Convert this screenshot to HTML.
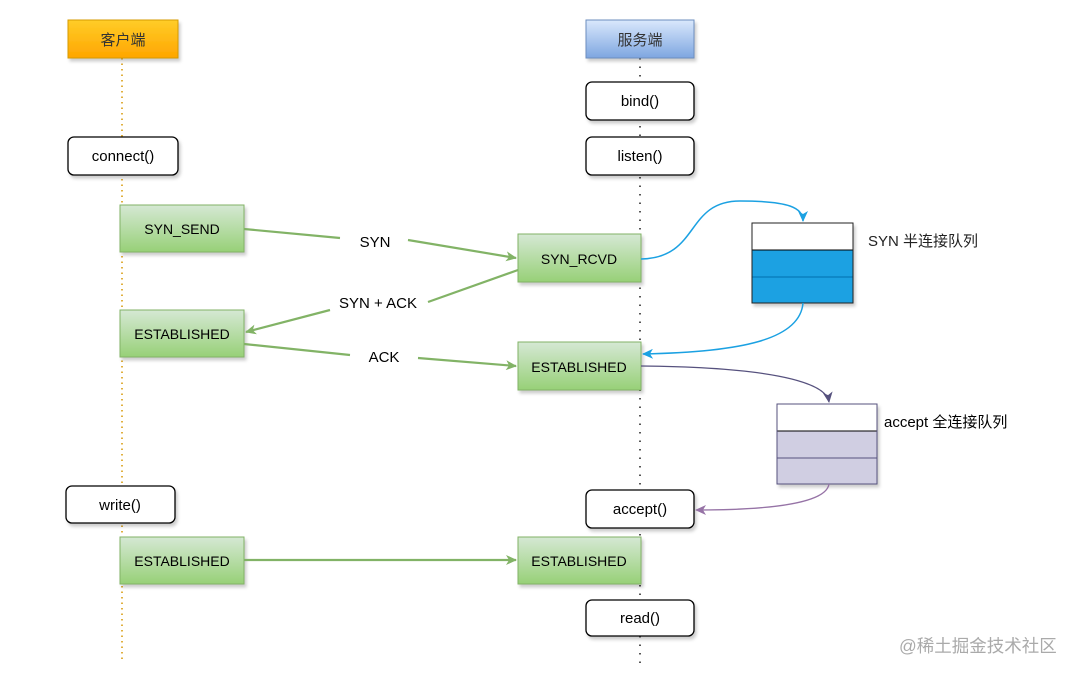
<!DOCTYPE html>
<html><head><meta charset="utf-8"><style>
html,body{margin:0;padding:0;background:#fff;}
svg{display:block;}
text{font-family:"Liberation Sans","Noto Sans CJK SC",sans-serif;}
</style></head><body>
<svg width="1080" height="675" viewBox="0 0 1080 675" xmlns="http://www.w3.org/2000/svg">
<defs>
<linearGradient id="og" x1="0" y1="0" x2="0" y2="1"><stop offset="0" stop-color="#ffcd28"/><stop offset="1" stop-color="#ffa500"/></linearGradient>
<linearGradient id="bg" x1="0" y1="0" x2="0" y2="1"><stop offset="0" stop-color="#dae8fc"/><stop offset="1" stop-color="#7ea6e0"/></linearGradient>
<linearGradient id="gg" x1="0" y1="0" x2="0" y2="1"><stop offset="0" stop-color="#d5e8d4"/><stop offset="1" stop-color="#97d077"/></linearGradient>
<filter id="sh" x="-10%" y="-10%" width="130%" height="140%"><feDropShadow dx="2" dy="3" stdDeviation="1.5" flood-color="#000" flood-opacity="0.2"/></filter>
<marker id="ag" markerWidth="12" markerHeight="10" refX="10" refY="5" orient="auto" markerUnits="userSpaceOnUse"><path d="M0,0 L11,5 L0,10 L3,5 z" fill="#82b366"/></marker>
<marker id="ab" markerWidth="12" markerHeight="10" refX="10" refY="5" orient="auto" markerUnits="userSpaceOnUse"><path d="M0,0 L11,5 L0,10 L3,5 z" fill="#1ba1e2"/></marker>
<marker id="ap" markerWidth="12" markerHeight="10" refX="10" refY="5" orient="auto" markerUnits="userSpaceOnUse"><path d="M0,0 L11,5 L0,10 L3,5 z" fill="#56517e"/></marker>
<marker id="ap2" markerWidth="12" markerHeight="10" refX="10" refY="5" orient="auto" markerUnits="userSpaceOnUse"><path d="M0,0 L11,5 L0,10 L3,5 z" fill="#9673a6"/></marker>
</defs>

<line x1="122" y1="58" x2="122" y2="662" stroke="#e0b040" stroke-width="2" stroke-dasharray="1.5,4"/>
<line x1="640" y1="58" x2="640" y2="668" stroke="#555" stroke-width="2" stroke-dasharray="1.5,7"/>

<rect x="68" y="20" width="110" height="38" fill="url(#og)" stroke="#d79b00" filter="url(#sh)"/>
<text x="123" y="45" text-anchor="middle" font-size="15" fill="#333">客户端</text>
<rect x="586" y="20" width="108" height="38" fill="url(#bg)" stroke="#6c8ebf" filter="url(#sh)"/>
<text x="640" y="45" text-anchor="middle" font-size="15" fill="#333">服务端</text>

<g fill="#fff" stroke="#000" stroke-width="1.3" filter="url(#sh)">
<rect x="586" y="82" width="108" height="38" rx="6"/>
<rect x="68" y="137" width="110" height="38" rx="6"/>
<rect x="586" y="137" width="108" height="38" rx="6"/>
<rect x="66" y="486" width="109" height="37" rx="6"/>
<rect x="586" y="490" width="108" height="38" rx="6"/>
<rect x="586" y="600" width="108" height="36" rx="6"/>
</g>
<g font-size="15" text-anchor="middle" fill="#000">
<text x="640" y="106">bind()</text>
<text x="123" y="161">connect()</text>
<text x="640" y="161">listen()</text>
<text x="120" y="510">write()</text>
<text x="640" y="514">accept()</text>
<text x="640" y="623">read()</text>
</g>

<g fill="url(#gg)" stroke="#82b366" filter="url(#sh)">
<rect x="120" y="205" width="124" height="47"/>
<rect x="518" y="234" width="123" height="48"/>
<rect x="120" y="310" width="124" height="47"/>
<rect x="518" y="342" width="123" height="48"/>
<rect x="120" y="537" width="124" height="47"/>
<rect x="518" y="537" width="123" height="47"/>
</g>
<g font-size="14" text-anchor="middle" fill="#000">
<text x="182" y="234">SYN_SEND</text>
<text x="579" y="264">SYN_RCVD</text>
<text x="182" y="339">ESTABLISHED</text>
<text x="579" y="372">ESTABLISHED</text>
<text x="182" y="566">ESTABLISHED</text>
<text x="579" y="566">ESTABLISHED</text>
</g>

<g stroke="#82b366" stroke-width="2.2" fill="none">
<line x1="244" y1="229" x2="340" y2="238"/>
<line x1="408" y1="240" x2="516" y2="258" marker-end="url(#ag)"/>
<line x1="518" y1="270" x2="428" y2="302"/>
<line x1="330" y1="310" x2="246" y2="332" marker-end="url(#ag)"/>
<line x1="244" y1="344" x2="350" y2="355"/>
<line x1="418" y1="358" x2="516" y2="366" marker-end="url(#ag)"/>
<line x1="244" y1="560" x2="516" y2="560" marker-end="url(#ag)"/>
</g>
<g font-size="15" text-anchor="middle" fill="#000">
<text x="375" y="247">SYN</text>
<text x="378" y="308">SYN + ACK</text>
<text x="384" y="362">ACK</text>
</g>

<g filter="url(#sh)">
<rect x="752" y="223" width="101" height="80" fill="#1ba1e2" stroke="#006eaf"/>
</g>
<rect x="752" y="223" width="101" height="27" fill="#fff" stroke="#000"/>
<line x1="752" y1="277" x2="853" y2="277" stroke="#006eaf"/>
<rect x="752" y="223" width="101" height="80" fill="none" stroke="#222"/>
<text x="868" y="246" font-size="15" fill="#222">SYN 半连接队列</text>

<g filter="url(#sh)">
<rect x="777" y="404" width="100" height="80" fill="#d0cee2" stroke="#56517e"/>
</g>
<rect x="777" y="404" width="100" height="27" fill="#fff" stroke="#000"/>
<line x1="777" y1="458" x2="877" y2="458" stroke="#56517e"/>
<rect x="777" y="404" width="100" height="80" fill="none" stroke="#56517e"/>
<text x="884" y="427" font-size="15" fill="#000">accept 全连接队列</text>

<path d="M641,259 C700,258 685,201 740,201 C790,201 803,208 803,221" stroke="#1ba1e2" stroke-width="1.5" fill="none" marker-end="url(#ab)"/>
<path d="M803,303 C800,340 740,352 643,354" stroke="#1ba1e2" stroke-width="1.5" fill="none" marker-end="url(#ab)"/>
<path d="M641,366 C760,367 826,380 829,402" stroke="#56517e" stroke-width="1.3" fill="none" marker-end="url(#ap)"/>
<path d="M829,484 C826,505 760,510 696,510" stroke="#9673a6" stroke-width="1.3" fill="none" marker-end="url(#ap2)"/>

<text x="899" y="652" font-size="17.5" fill="#aaa">@稀土掘金技术社区</text>
</svg>
</body></html>
